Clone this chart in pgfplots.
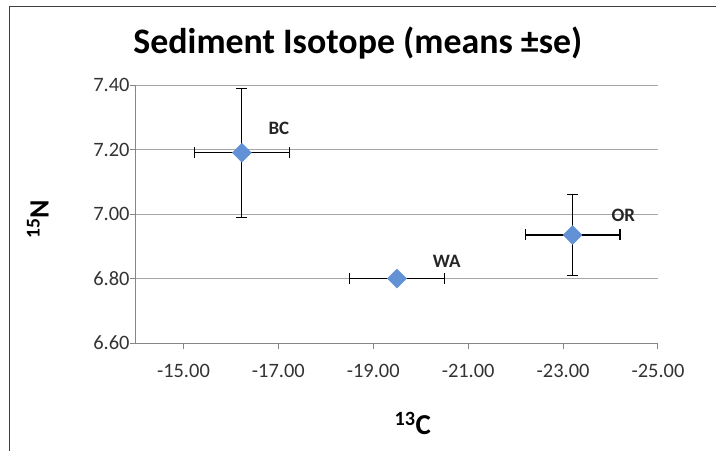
\documentclass[border=0pt]{standalone}
\usepackage{fontspec}
\setmainfont{Carlito}
\usepackage{pgfplots}
\pgfplotsset{compat=1.18}
\definecolor{axgray}{RGB}{134,134,134}
\definecolor{gridgray}{RGB}{166,166,166}
\definecolor{ptblue}{RGB}{98,145,214}
\definecolor{framegray}{RGB}{64,64,64}

\begin{document}
\begin{tikzpicture}
\useasboundingbox (-136bp,-108bp) rectangle (580bp,343bp);
\draw[framegray, line width=1bp] (-126bp,-108bp) -- (-126bp,336bp) -- (580bp,336bp);
\begin{axis}[
  at={(0,0)}, anchor=south west,
  scale only axis, width=522bp, height=258bp,
  x dir=reverse,
  xmin=-25, xmax=-14, ymin=6.6, ymax=7.4,
  xtick={-25,-23,-21,-19,-17,-15},
  ytick={6.6,6.8,7.0,7.2,7.4},
  axis x line*=bottom, axis y line*=left,
  axis line style={axgray, line width=1bp},
  tick align=outside, major tick length=6bp,
  tick style={axgray, line width=1bp},
  ymajorgrids, grid style={gridgray, line width=1bp},
  tick label style={font=\fontsize{20.5}{22}\selectfont, text=black!80},
  xticklabel style={yshift=-12bp},
  yticklabel style={xshift=3bp},
  /pgf/number format/fixed, /pgf/number format/fixed zerofill,
  /pgf/number format/precision=2, /pgf/number format/assume math mode=true,
  title={Sediment Isotope (means ±se)},
  title style={font=\fontsize{36}{40}\selectfont\bfseries,
    at={(axis description cs:0.425,1.14)}, anchor=center},
  xlabel={\textsuperscript{13}C},
  xlabel style={font=\fontsize{29}{32}\selectfont\bfseries,
    at={(axis description cs:0.53,-0.31)}, anchor=center},
  ylabel={\textsuperscript{15}N},
  ylabel style={font=\fontsize{28}{30}\selectfont\bfseries,
    at={(axis description cs:-0.188,0.48)}, anchor=center},
  clip=false,
]
\addplot[only marks, mark=square*, mark size=6.7bp,
  mark options={rotate=45, fill=ptblue, draw=ptblue},
  error bars/.cd, x dir=both, x explicit, y dir=both, y explicit,
  error bar style={black, line width=1.2bp},
  error mark options={black, line width=1.2bp, mark size=5.5bp, rotate=90}]
  coordinates {
  (-16.23,7.19) +- (1.0,0.20)
  (-19.50,6.80) +- (1.0,0.0)
  (-23.20,6.935) +- (1.0,0.125)
  };
\node[font=\fontsize{19}{21}\selectfont\bfseries, text=black!85] at (axis cs:-17.01,7.267) {BC};
\node[font=\fontsize{19}{21}\selectfont\bfseries, text=black!85] at (axis cs:-20.55,6.852) {WA};
\node[font=\fontsize{19}{21}\selectfont\bfseries, text=black!85] at (axis cs:-24.27,6.997) {OR};
\end{axis}
\end{tikzpicture}
\end{document}
